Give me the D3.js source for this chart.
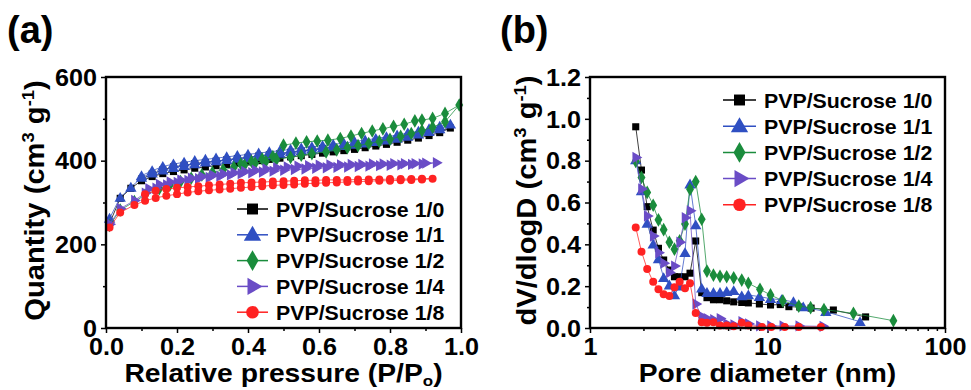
<!DOCTYPE html>
<html>
<head>
<meta charset="utf-8">
<script src="https://cdn.jsdelivr.net/npm/d3@7"></script>
<style>
  body { margin: 0; background: #fff; }
  svg text { font-family: "Liberation Sans", Arial, sans-serif; font-weight: bold; fill: #000; }
</style>
</head>
<body>
<svg id="fig" width="971" height="390"></svg>
<script>
// ---- legend / series info ----
const seriesNames = ['PVP/Sucrose 1/0', 'PVP/Sucrose 1/1', 'PVP/Sucrose 1/2', 'PVP/Sucrose 1/4', 'PVP/Sucrose 1/8'];
const seriesColors = ['#000000', '#2f4fc2', '#1a8c3c', '#6a4cc6', '#ff2222'];

// ---- (a) N2 isotherms: relative pressure / quantity (adsorption then desorption) ----
const iso10P = [0.01,0.04,0.07,0.10,0.13,0.16,0.19,0.22,0.25,0.28,0.31,0.34,0.37,0.40,0.43,0.46,0.49,0.52,0.55,0.58,0.61,0.64,0.67,0.70,0.73,0.76,0.79,0.82,0.85,0.88,0.91,0.94,0.97,
                0.94,0.91,0.88,0.85,0.82,0.79,0.76,0.73,0.70,0.67,0.64,0.61,0.58,0.55,0.52,0.49,0.46,0.43,0.40,0.37,0.34,0.31,0.28,0.25,0.22,0.19,0.16,0.13,0.10];
const iso10Q = [250,310,334,352,362,369,374,378,382,385,388,391,394,397,400,403,406,409,412,415,418,421,424,427,431,435,439,444,449,454,460,467,478,
                472,466,461,456,452,448,444,441,438,435,432,429,426,423,420,417,414,411,408,405,402,399,396,393,389,385,378,368,356];

const iso11P = iso10P;
const iso11Q = [262,312,336,360,370,377,383,388,392,396,399,402,405,407,410,413,417,421,424,427,430,433,436,439,442,445,449,453,458,463,469,476,487,
                482,476,470,466,461,457,453,449,446,442,439,436,433,430,427,424,421,418,415,412,409,406,403,400,396,392,386,376,364];

const iso12P = [0.01,0.04,0.08,0.11,0.15,0.18,0.21,0.24,0.27,0.30,0.33,0.36,0.39,0.42,0.45,0.48,0.52,0.55,0.58,0.62,0.65,0.68,0.71,0.74,0.77,0.80,0.83,0.86,0.89,0.92,0.955,0.995,
                0.955,0.92,0.89,0.87,0.84,0.81,0.78,0.75,0.72,0.69,0.66,0.625,0.595,0.565,0.535,0.50,0.47,0.44,0.41,0.38];
const iso12Q = [245,282,302,318,333,342,350,358,366,372,378,384,389,394,398,403,408,413,417,421,426,431,436,441,446,451,458,465,472,480,493,533,
                513,501,497,495,487,482,476,471,465,459,453,449,447,445,442,437,410,404,398,392];

const iso14P = [0.01,0.04,0.08,0.11,0.14,0.17,0.20,0.23,0.26,0.29,0.32,0.35,0.38,0.41,0.44,0.47,0.50,0.53,0.56,0.59,0.62,0.65,0.68,0.71,0.74,0.77,0.80,0.83,0.86,0.89,0.93,
                0.90,0.87,0.84,0.81,0.78,0.75,0.72,0.69,0.66,0.63,0.60,0.57,0.54,0.51,0.48,0.45,0.42,0.39,0.36,0.33,0.30,0.27,0.24,0.21,0.18,0.15,0.12];
const iso14Q = [248,285,305,322,334,342,348,353,357,360,363,366,369,371,373,375,377,379,380,382,383,384,385,386,387,388,389,390,391,392,395,
                394,393,393,393,392,392,391,391,390,390,389,388,387,385,383,380,377,374,371,368,365,362,358,354,349,343,333];

const iso18P = [0.01,0.04,0.08,0.11,0.14,0.17,0.20,0.23,0.26,0.29,0.32,0.35,0.38,0.41,0.44,0.47,0.50,0.53,0.56,0.59,0.62,0.65,0.68,0.71,0.74,0.77,0.80,0.83,0.86,0.89,0.92,
                0.89,0.86,0.83,0.80,0.77,0.74,0.71,0.68,0.65,0.62,0.59,0.56,0.53,0.50,0.47,0.44,0.41,0.38,0.35,0.32,0.29,0.26,0.23,0.20,0.17,0.14,0.11];
const iso18Q = [240,276,294,304,311,316,320,324,327,329,331,333,335,337,339,341,342,343,345,346,347,348,349,350,351,352,352,353,354,355,357,
                357,356,356,356,355,355,355,354,354,354,353,353,352,351,350,349,348,347,345,343,341,339,337,335,332,328,320];

// ---- (b) pore size distribution: diameter (nm) / dV/dlogD ----
const psd10D = [1.81,1.95,2.10,2.27,2.43,2.60,2.80,2.99,3.20,3.43,3.66,3.94,4.26,4.56,4.96,5.40,5.89,6.45,7.16,7.8,9.0,10.4,11.8,13.2,15.2,17.6,23.5,35.7];
const psd10V = [0.962,0.755,0.58,0.468,0.381,0.325,0.277,0.245,0.245,0.245,0.262,0.416,0.169,0.145,0.135,0.135,0.130,0.125,0.122,0.120,0.115,0.110,0.112,0.102,0.100,0.095,0.086,0.053];

const psd11D = [1.81,1.95,2.10,2.27,2.43,2.60,2.80,2.99,3.20,3.43,3.66,3.94,4.26,4.56,4.96,5.40,5.89,6.45,7.16,7.8,9.0,10.4,12.0,14.0,15.9,21.3,33.2];
const psd11V = [0.803,0.655,0.50,0.40,0.33,0.24,0.205,0.158,0.200,0.360,0.688,0.492,0.190,0.169,0.169,0.169,0.174,0.178,0.153,0.158,0.150,0.140,0.135,0.125,0.100,0.078,0.030];

const psd12D = [1.81,1.95,2.10,2.27,2.43,2.60,2.80,2.99,3.20,3.43,3.66,3.94,4.26,4.56,4.96,5.40,5.89,6.45,7.16,7.8,9.07,10.4,12.2,15.0,17.5,20.8,30.5,51.2];
const psd12V = [0.797,0.72,0.648,0.587,0.517,0.470,0.410,0.377,0.417,0.497,0.663,0.700,0.520,0.272,0.253,0.247,0.245,0.240,0.229,0.214,0.185,0.158,0.130,0.105,0.097,0.088,0.070,0.035];

const psd14D = [1.81,1.95,2.10,2.27,2.43,2.60,2.80,2.99,3.20,3.43,3.66,3.94,4.26,4.56,4.96,5.40,5.89,6.45,7.16,7.8,9.0,10.4,12.2,15.0,20.5];
const psd14V = [0.815,0.665,0.535,0.440,0.360,0.310,0.265,0.296,0.410,0.527,0.560,0.115,0.055,0.045,0.040,0.045,0.020,0.015,0.030,0.020,0.010,0.010,0.010,0.010,0.008];

const psd18D = [1.81,1.95,2.10,2.27,2.43,2.60,2.80,2.99,3.20,3.43,3.66,3.94,4.26,4.56,4.96,5.40,5.89,6.45,7.16,7.8,9.3,10.5,12.5,15.0,20.0];
const psd18V = [0.481,0.365,0.282,0.221,0.185,0.161,0.153,0.195,0.221,0.190,0.214,0.072,0.028,0.025,0.028,0.012,0.012,0.008,0.025,0.012,0.005,0.005,0.005,0.005,0.005];

// ---- axis ticks ----
const isoXTicks = [0, 0.2, 0.4, 0.6, 0.8, 1.0];
const isoXMinor = [0.1, 0.3, 0.5, 0.7, 0.9];
const isoYTicks = [0, 200, 400, 600];
const isoYMinor = [100, 300, 500];
const psdXTicks = [1, 10, 100];
const psdXMinor = [2,3,4,5,6,7,8,9,20,30,40,50,60,70,80,90];
const psdYTicks = [0, 0.2, 0.4, 0.6, 0.8, 1.0, 1.2];
const psdYMinor = [0.1, 0.3, 0.5, 0.7, 0.9, 1.1];

const isoSeries = [[iso10P, iso10Q], [iso11P, iso11Q], [iso12P, iso12Q], [iso14P, iso14Q], [iso18P, iso18Q]];
const psdSeries = [[psd10D, psd10V], [psd11D, psd11V], [psd12D, psd12V], [psd14D, psd14V], [psd18D, psd18V]];

const svg = d3.select('#fig');

// widen glyphs a bit: the original figure uses a wider bold face
function stretch(sel, k) {
  sel.each(function () {
    const L = this.getComputedTextLength();
    d3.select(this).attr('textLength', L * k).attr('lengthAdjust', 'spacingAndGlyphs');
  });
}

// marker shape per series: square, up-triangle, diamond, right-triangle, circle
function marker(g, i, x, y, big) {
  const types = [d3.symbolSquare, d3.symbolTriangle, d3.symbolDiamond, d3.symbolTriangle, d3.symbolCircle];
  const small = [50, 56, 54, 56, 50];
  const large = [120, 130, 125, 130, 125];
  const size = big ? large[i] : small[i];
  g.append('path')
    .attr('d', d3.symbol().type(types[i]).size(size)())
    .attr('transform', 'translate(' + x + ',' + y + ')' + (i === 3 ? ' rotate(90)' : (i === 1 ? ' translate(0,1)' : '')))
    .attr('fill', seriesColors[i]);
}

function drawPanel(opts) {
  const x = opts.x, y = opts.y;
  const g = svg.append('g');
  const [x0, x1] = x.range();
  const [y0, y1] = y.range();

  // ticks
  const xMajor = g.append('g').attr('transform', 'translate(0,' + y0 + ')')
    .call(d3.axisBottom(x).tickValues(opts.xTicks).tickFormat(opts.xFormat).tickSizeInner(5).tickSizeOuter(0).tickPadding(5));
  g.append('g').attr('transform', 'translate(0,' + y0 + ')')
    .call(d3.axisBottom(x).tickValues(opts.xMinor).tickFormat('').tickSizeInner(3).tickSizeOuter(0));
  const yMajor = g.append('g').attr('transform', 'translate(' + x0 + ',0)')
    .call(d3.axisLeft(y).tickValues(opts.yTicks).tickFormat(opts.yFormat).tickSizeInner(5).tickSizeOuter(0).tickPadding(4));
  g.append('g').attr('transform', 'translate(' + x0 + ',0)')
    .call(d3.axisLeft(y).tickValues(opts.yMinor).tickFormat('').tickSizeInner(3).tickSizeOuter(0));
  g.selectAll('.domain').remove();
  g.selectAll('.tick line').attr('stroke', '#000').attr('stroke-width', 1.5);
  g.selectAll('.tick text').attr('font-size', 24).attr('font-family', null);
  xMajor.selectAll('.tick text').attr('dy', '0.72em');
  yMajor.selectAll('.tick text').attr('dy', '0.34em');
  stretch(g.selectAll('.tick text'), 1.05);

  // series
  opts.series.forEach(function (s, i) {
    const pts = s[0].map(function (v, j) { return [x(v), y(s[1][j])]; });
    g.append('path')
      .attr('d', d3.line()(pts))
      .attr('fill', 'none')
      .attr('stroke', seriesColors[i])
      .attr('stroke-opacity', 0.75)
      .attr('stroke-width', 1);
    const mg = g.append('g');
    pts.forEach(function (p) { marker(mg, i, p[0], p[1], false); });
  });

  // frame
  g.append('rect')
    .attr('x', x0).attr('y', y1).attr('width', x1 - x0).attr('height', y0 - y1)
    .attr('fill', 'none').attr('stroke', '#000').attr('stroke-width', 2.4);

  // legend
  const lg = g.append('g');
  seriesNames.forEach(function (name, i) {
    const cy = opts.legY + i * opts.legStep;
    lg.append('line')
      .attr('x1', opts.legX).attr('x2', opts.legX + opts.legLen)
      .attr('y1', cy).attr('y2', cy)
      .attr('stroke', seriesColors[i]).attr('stroke-width', 1.5);
    marker(lg, i, opts.legX + opts.legLen / 2, cy, true);
    lg.append('text')
      .attr('x', opts.legX + opts.legLen + 8).attr('y', cy + 7.5)
      .attr('font-size', 20.5)
      .text(name);
  });
  stretch(lg.selectAll('text'), 1.04);

  // x title
  const xt = g.append('text')
    .attr('x', (x0 + x1) / 2).attr('y', 382)
    .attr('text-anchor', 'middle')
    .attr('font-size', 25);
  opts.xTitle(xt);
  stretch(xt, 1.13);

  // y title
  const yt = g.append('text')
    .attr('transform', 'translate(' + opts.yTitleX + ',' + ((y0 + y1) / 2 - 2) + ') rotate(-90)')
    .attr('text-anchor', 'middle')
    .attr('font-size', 27);
  yt.append('tspan').text(opts.yTitle);
  yt.append('tspan').text(' (cm');
  yt.append('tspan').attr('font-size', 17).attr('dy', -10).text('3');
  yt.append('tspan').attr('dy', 10).text(' g');
  yt.append('tspan').attr('font-size', 17).attr('dy', -10).text('-1');
  yt.append('tspan').attr('dy', 10).text(')');
  stretch(yt, 1.08);

  // panel label
  g.append('text')
    .attr('x', opts.labelX).attr('y', 43)
    .attr('font-size', 38)
    .text(opts.label);
}

drawPanel({
  x: d3.scaleLinear([0, 1], [106, 461]),
  y: d3.scaleLinear([0, 600], [328, 77]),
  xTicks: isoXTicks, xMinor: isoXMinor, yTicks: isoYTicks, yMinor: isoYMinor,
  xFormat: d3.format('.1f'), yFormat: d3.format('d'),
  series: isoSeries,
  legX: 237, legLen: 31, legY: 209, legStep: 25.8,
  xTitle: function (t) {
    t.append('tspan').text('Relative pressure (P/P');
    t.append('tspan').attr('font-size', 15).attr('dy', 4).text('o');
    t.append('tspan').attr('dy', -4).text(')');
  },
  yTitle: 'Quantity', yTitleX: 44,
  label: '(a)', labelX: 7
});

drawPanel({
  x: d3.scaleLog([1, 100], [590, 945]),
  y: d3.scaleLinear([0, 1.2], [328, 77]),
  xTicks: psdXTicks, xMinor: psdXMinor, yTicks: psdYTicks, yMinor: psdYMinor,
  xFormat: d3.format('d'), yFormat: d3.format('.1f'),
  series: psdSeries,
  legX: 723, legLen: 33, legY: 100, legStep: 26.2,
  xTitle: function (t) { t.text('Pore diameter (nm)'); },
  yTitle: 'dV/dlogD', yTitleX: 536,
  label: '(b)', labelX: 500
});
</script>
</body>
</html>
